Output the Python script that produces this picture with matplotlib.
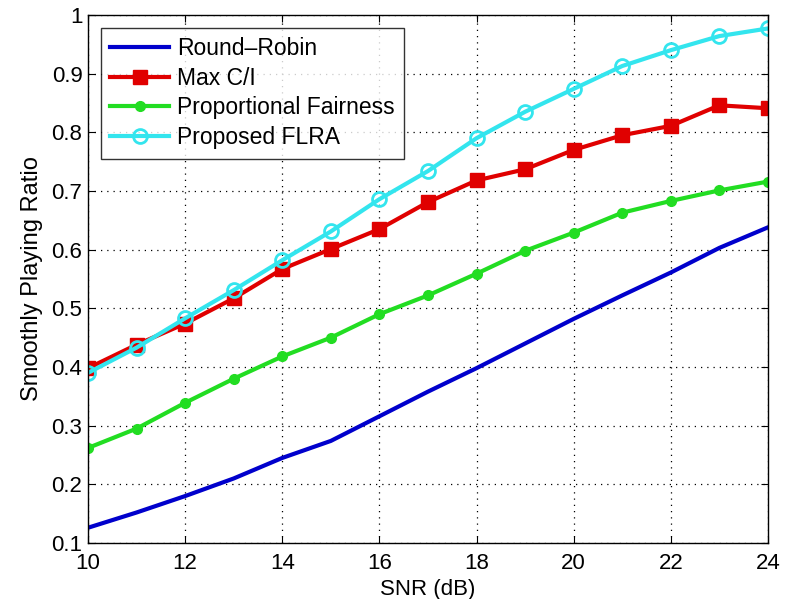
import matplotlib
matplotlib.use("Agg")
import matplotlib.pyplot as plt

snr = [10, 11, 12, 13, 14, 15, 16, 17, 18, 19, 20, 21, 22, 23, 24]
round_robin = [0.126, 0.152, 0.180, 0.210, 0.245, 0.274, 0.316, 0.358, 0.398, 0.440, 0.482, 0.522, 0.561, 0.603, 0.638]
max_ci = [0.398, 0.438, 0.474, 0.517, 0.567, 0.601, 0.635, 0.681, 0.718, 0.737, 0.770, 0.795, 0.811, 0.846, 0.841]
prop_fair = [0.262, 0.295, 0.339, 0.380, 0.418, 0.450, 0.490, 0.522, 0.559, 0.598, 0.629, 0.663, 0.683, 0.701, 0.716]
flra = [0.390, 0.433, 0.483, 0.531, 0.582, 0.631, 0.686, 0.734, 0.790, 0.835, 0.874, 0.913, 0.940, 0.964, 0.977]

labels = ["Round\u2013Robin", "Max C/I", "Proportional Fairness", "Proposed FLRA"]
xticks = [10, 12, 14, 16, 18, 20, 22, 24]
yticks = [0.1, 0.2, 0.3, 0.4, 0.5, 0.6, 0.7, 0.8, 0.9, 1.0]
ytick_labels = ["0.1", "0.2", "0.3", "0.4", "0.5", "0.6", "0.7", "0.8", "0.9", "1"]

plt.rcParams['font.family'] = ['Liberation Sans', 'DejaVu Sans']

fig = plt.figure(figsize=(7.86, 5.99), dpi=100)
ax = fig.add_axes([0.112, 0.0935, 0.865, 0.8815])

ax.plot(snr, round_robin, color='#0000CC', lw=3, label=labels[0])
ax.plot(snr, max_ci, color='#E00000', lw=3, marker='s', ms=10, mfc='#E00000', mec='#E00000', label=labels[1])
ax.plot(snr, prop_fair, color='#22DD22', lw=3, marker='o', ms=7, mfc='#22DD22', mec='#22DD22', label=labels[2])
ax.plot(snr, flra, color='#33E5EE', lw=3, marker='o', ms=10, mfc='none', mec='#33E5EE', mew=2, label=labels[3])

ax.set_xlim(10, 24)
ax.set_ylim(0.1, 1.0)
ax.set_xticks(xticks)
ax.set_yticks(yticks)
ax.set_yticklabels(ytick_labels)
ax.tick_params(direction='in', labelsize=16, length=5, top=True, right=True)
ax.tick_params(axis='x', pad=7)
ax.tick_params(axis='y', pad=4)
ax.grid(True, linestyle=(0, (1, 4)), color='black', lw=0.9)
for s in ax.spines.values():
    s.set_linewidth(1.0)

ax.set_xlabel("SNR (dB)", fontsize=16, labelpad=4)
ax.set_ylabel("Smoothly Playing Ratio", fontsize=17, labelpad=6)

leg = ax.legend(loc='upper left', fontsize=16.5, frameon=True, fancybox=False,
                edgecolor='black', handlelength=2.6, handletextpad=0.35,
                borderaxespad=0.55, labelspacing=0.3, borderpad=0.4)
leg.get_frame().set_linewidth(1.0)

fig.savefig("out.png", dpi=100)
